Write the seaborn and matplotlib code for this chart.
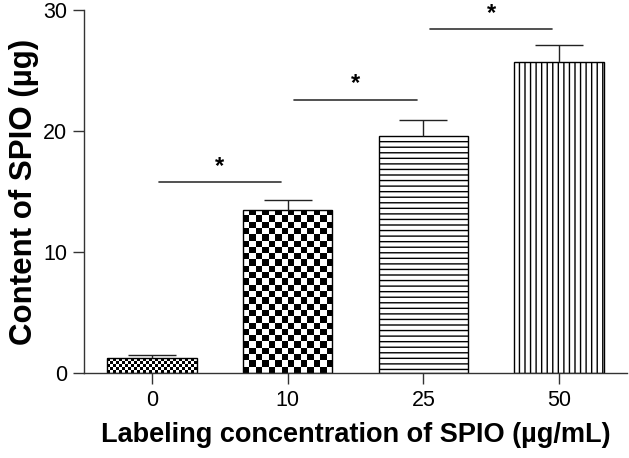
import numpy as np
import pandas as pd
import matplotlib
matplotlib.use("Agg")
import matplotlib.pyplot as plt
import seaborn as sns

# Data
concentrations = ["0", "10", "25", "50"]
content = [1.2, 13.5, 19.6, 25.7]
content_err = [0.3, 0.8, 1.3, 1.4]
# significance brackets: (left bar, right bar, height)
sig_pairs = [(0, 1, 15.8), (1, 2, 22.6), (2, 3, 28.4)]

sns.set_theme(style="ticks")
plt.rcParams["font.family"] = ["Liberation Sans", "DejaVu Sans"]
plt.rcParams["hatch.linewidth"] = 1.0
plt.rcParams.update({"text.color": "black", "axes.labelcolor": "black",
                     "xtick.labelcolor": "black", "ytick.labelcolor": "black"})

df = pd.DataFrame({"conc": concentrations, "content": content})

fig = plt.figure(figsize=(6.29, 4.58), dpi=100)
ax = fig.add_axes([0.1335, 0.1856, 0.997 - 0.1335, 0.978 - 0.1856])

sns.barplot(data=df, x="conc", y="content", order=concentrations, color="white",
            edgecolor="black", linewidth=1.0, width=0.66, errorbar=None, ax=ax)

ax.set_xlim(-0.5, 3.5)
ax.set_ylim(0, 30)
ax.set_yticks([0, 10, 20, 30])

# error bars, upper side only
eb = ax.errorbar(range(len(content)), content, yerr=[[0] * len(content), content_err],
                 fmt="none", ecolor="#222222", elinewidth=1.0, capsize=17.5, capthick=1.0, zorder=3)
eb[1][0].set_visible(False)

fig.canvas.draw()
bars = ax.patches
# checkerboard fills for first two bars, cell size in pixels
cell_px = [3.0, 6.2]
for i, cpx in enumerate(cell_px):
    p = bars[i]
    bb = p.get_window_extent()
    nx = max(1, int(round(bb.width / cpx)))
    ny = max(1, int(round(bb.height / cpx)))
    board = (np.add.outer(np.arange(ny), np.arange(nx)) % 2).astype(float)
    x0, y0 = p.get_x(), p.get_y()
    im = ax.imshow(board, cmap="gray", interpolation="nearest", origin="lower",
                   extent=(x0, x0 + p.get_width(), y0, y0 + p.get_height()),
                   aspect="auto", zorder=0.5)
    im.set_clip_path(p)
    p.set_facecolor("none")

bars[2].set_hatch("---")
bars[3].set_hatch("|||")
ax.set_xlim(-0.5, 3.5)
ax.set_ylim(0, 30)

# significance brackets
for a, b, h in sig_pairs:
    ax.plot([a + 0.05, b - 0.05], [h, h], color="#333333", lw=1.2, zorder=3)
    ax.text((a + b) / 2, h + 0.35, "*", ha="center", va="bottom",
            fontsize=17, fontweight="bold")

sns.despine(ax=ax)
for s in ["left", "bottom"]:
    ax.spines[s].set_color("#333333")
    ax.spines[s].set_linewidth(1.0)
ax.tick_params(axis="both", length=8, width=1.0, color="#333333",
               labelsize=15.5, pad=4)

ax.set_xlabel("Labeling concentration of SPIO (\u00b5g/mL)", fontsize=19.5,
              fontweight="bold", labelpad=8)
ax.set_ylabel("Content of SPIO (\u00b5g)", fontsize=22.5, fontweight="bold", labelpad=3)

fig.savefig("out.png", dpi=100)
